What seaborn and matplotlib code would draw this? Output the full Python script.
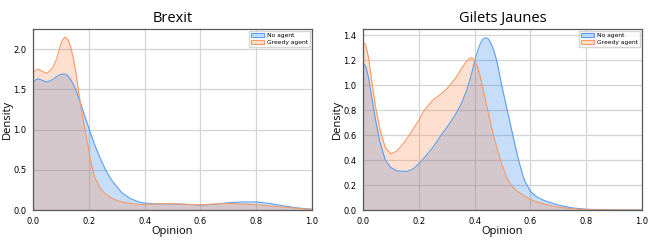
import numpy as np
import pandas as pd
import seaborn as sns
import matplotlib.pyplot as plt
from matplotlib.patches import Patch
from matplotlib.colors import to_rgb

# opinion grid and densities
brexit_x = [0.0, 0.01, 0.02, 0.035, 0.05, 0.07, 0.085, 0.095, 0.105, 0.115, 0.125, 0.135, 0.145, 0.155,
            0.17, 0.18, 0.19, 0.2, 0.21, 0.22, 0.24, 0.26, 0.28, 0.3, 0.32, 0.35, 0.38, 0.4, 0.45, 0.5,
            0.55, 0.6, 0.65, 0.7, 0.75, 0.8, 0.85, 0.9, 0.95, 1.0]
brexit_none = [1.58, 1.62, 1.63, 1.61, 1.59, 1.62, 1.66, 1.68, 1.69, 1.69, 1.67, 1.62, 1.56, 1.48,
               1.33, 1.23, 1.12, 1.02, 0.92, 0.82, 0.65, 0.5, 0.38, 0.29, 0.21, 0.14, 0.1, 0.085, 0.075,
               0.075, 0.07, 0.06, 0.07, 0.09, 0.1, 0.1, 0.08, 0.05, 0.025, 0.01]
brexit_greedy = [1.7, 1.74, 1.75, 1.72, 1.7, 1.76, 1.88, 2.01, 2.11, 2.15, 2.12, 2.03, 1.88, 1.68,
                 1.32, 1.12, 0.93, 0.74, 0.56, 0.42, 0.27, 0.2, 0.15, 0.12, 0.1, 0.08, 0.07, 0.07, 0.075,
                 0.08, 0.07, 0.065, 0.075, 0.08, 0.075, 0.065, 0.05, 0.035, 0.02, 0.005]

gj_x = [0.0, 0.01, 0.02, 0.03, 0.045, 0.06, 0.08, 0.1, 0.12, 0.14, 0.16, 0.18, 0.2, 0.22, 0.25,
        0.28, 0.3, 0.33, 0.35, 0.37, 0.38, 0.39, 0.4, 0.41, 0.42, 0.43, 0.44, 0.45, 0.46, 0.47,
        0.48, 0.49, 0.5, 0.51, 0.52, 0.53, 0.54, 0.55, 0.56, 0.57, 0.58, 0.6, 0.62, 0.65, 0.7,
        0.75, 0.8, 0.9, 1.0]
gj_none = [1.18, 1.15, 1.06, 0.92, 0.72, 0.55, 0.4, 0.34, 0.315, 0.31, 0.31, 0.33, 0.37, 0.42, 0.5,
           0.6, 0.66, 0.76, 0.84, 0.95, 1.02, 1.1, 1.19, 1.27, 1.33, 1.37, 1.38, 1.37, 1.33, 1.27,
           1.19, 1.08, 0.97, 0.87, 0.77, 0.67, 0.57, 0.47, 0.38, 0.3, 0.23, 0.15, 0.11, 0.075, 0.04,
           0.017, 0.006, 0.0, 0.0]
gj_greedy = [1.35, 1.32, 1.22, 1.05, 0.83, 0.65, 0.5, 0.45, 0.47, 0.52, 0.58, 0.65, 0.72, 0.8, 0.88,
             0.93, 0.97, 1.05, 1.12, 1.19, 1.21, 1.22, 1.2, 1.15, 1.07, 0.97, 0.87, 0.77, 0.67, 0.58,
             0.5, 0.42, 0.35, 0.29, 0.24, 0.2, 0.175, 0.155, 0.14, 0.125, 0.11, 0.085, 0.068, 0.048, 0.022,
             0.01, 0.004, 0.0, 0.0]

titles = ["Brexit", "Gilets Jaunes"]
series_names = ["No agent", "Greedy agent"]
line_colors = ["#5b9ff0", "#f59a66"]
fill_colors = ["#2f86ee", "#fb8d50"]
fill_alpha = 0.27

sns.set_style("whitegrid")
plt.rcParams['font.family'] = ['DejaVu Sans']
plt.rcParams['text.color'] = 'black'
plt.rcParams['axes.labelcolor'] = 'black'

fig = plt.figure(figsize=(6.58, 2.4), dpi=100)
ax1 = fig.add_axes([33/658, 30/240, 279/658, 181/240])
ax2 = fig.add_axes([363/658, 30/240, 279/658, 181/240])

panels = [
    (ax1, brexit_x, [brexit_none, brexit_greedy], 2.25, [0, 0.5, 1.0, 1.5, 2.0]),
    (ax2, gj_x, [gj_none, gj_greedy], 1.45, [0, 0.2, 0.4, 0.6, 0.8, 1.0, 1.2, 1.4]),
]

for (ax, xs, ys, ytop, yticks), title in zip(panels, titles):
    for y, lc, fc in zip(ys, line_colors, fill_colors):
        df = pd.DataFrame({"Opinion": xs, "Density": y})
        ax.fill_between(df["Opinion"], df["Density"], color=fc, alpha=fill_alpha, linewidth=0)
        sns.lineplot(data=df, x="Opinion", y="Density", ax=ax, color=lc, linewidth=0.8)
    ax.set_xlim(0, 1)
    ax.set_ylim(0, ytop)
    ax.set_xticks([0, 0.2, 0.4, 0.6, 0.8, 1.0])
    ax.set_yticks(yticks)
    ax.tick_params(labelsize=6, pad=1.2, labelcolor="black")
    ax.grid(color="#d4d4d4", linewidth=0.9)
    for s in ax.spines.values():
        s.set_color("#5a5a5a")
        s.set_linewidth(0.9)
    ax.set_title(title, fontsize=10.5, family="Open Sans", pad=5)
    ax.set_xlabel("Opinion", fontsize=8, family="Open Sans", labelpad=0.5)
    ax.set_ylabel("Density", fontsize=8, family="Open Sans", labelpad=0.5)
    handles = [Patch(facecolor=(*to_rgb(fc), fill_alpha), edgecolor=lc, linewidth=0.8)
               for lc, fc in zip(line_colors, fill_colors)]
    ax.legend(handles, series_names, loc="upper right", fontsize=4.3, frameon=True,
              handlelength=2.2, handleheight=0.6, borderpad=0.4, labelspacing=0.3,
              handletextpad=0.4, borderaxespad=0.3, fancybox=False, edgecolor="#cccccc")

fig.savefig("out.png", dpi=100)
